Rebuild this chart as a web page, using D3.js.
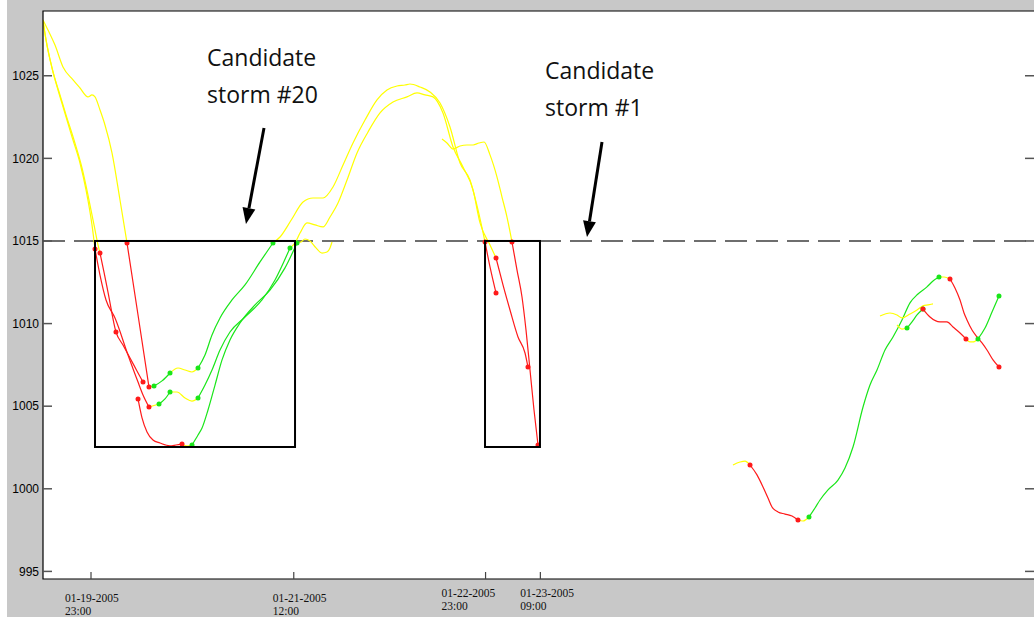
<!DOCTYPE html>
<html>
<head>
<meta charset="utf-8">
<script src="https://cdn.jsdelivr.net/npm/d3@7"></script>
<style>
  body { margin: 0; background: #fff; }
  svg { display: block; }
</style>
</head>
<body>
<script>
// Each point: [hours after 01-19-2005 23:00, pressure hPa, colour of the segment starting here, marker(s)]
const track1 = [
  [-8.76,1028.38,"y"],[-7.85,1027.77,"y"],[-6.57,1026.86,"y"],[-5.11,1025.53,"y"],[-3.28,1024.75,"y"],
  [-2.01,1024.26,"y"],[-0.55,1023.72,"y"],[0.18,1023.84,"y"],[0.73,1023.72,"y"],[1.64,1022.93,"y"],
  [2.55,1022.02,"y"],[3.83,1020.33,"y"],[5.29,1017.48,"y"],[6.57,1014.88,"r","r"],[8.58,1010.52,"r"],
  [10.58,1006.16,"y","r"],[11.50,1006.22,"g","g"],[12.96,1006.53,"g"],[14.42,1007.01,"y","g"],
  [15.88,1007.31,"y"],[17.15,1007.19,"y"],[18.43,1007.07,"y"],[19.53,1007.31,"g","g"],[20.80,1008.10,"g"],
  [22.08,1009.31,"g"],[23.54,1010.34,"g"],[25.73,1011.43,"g"],[28.10,1012.34,"g"],[30.84,1013.73,"g"],
  [33.21,1014.88,"y","g"],[34.49,1015.24,"y"],[36.6,1016.3,"y"],[38.69,1017.36,"y"],[40.51,1017.60,"y"],
  [42.34,1017.60,"y"],[44.16,1018.27,"y"],[45.99,1019.60,"y"],[47.81,1020.93,"y"],[50.00,1022.32,"y"],
  [52.19,1023.54,"y"],[54.01,1024.14,"y"],[55.84,1024.38,"y"],[57.30,1024.44,"y"],[58.21,1024.50,"y"],
  [60.04,1024.32,"y"],[61.86,1024.02,"y"],[63.69,1023.35,"y"],[65.51,1021.90,"y"],[67.34,1019.72,"y"],
  [69.16,1018.69,"y"],[70.62,1016.88,"y"],[71.90,1014.94,"r","r"],[72.81,1013.43,"r"],[73.91,1011.85,"r","r"]
];
const track2 = [
  [-8.76,1028.38,"y"],[-8.21,1027.17,"y"],[-7.12,1025.47,"y"],[-6.02,1024.14,"y"],[-4.93,1022.93,"y"],
  [-3.47,1021.30,"y"],[-2.01,1019.72,"y"],[-0.91,1018.09,"y"],[0.18,1015.97,"y"],[0.73,1014.52,"r","r"],
  [1.64,1012.94,"r"],[2.74,1011.43,"r"],[4.38,1010.34,"r"],[6.75,1008.10,"r"],[8.58,1006.46,"r"],
  [9.49,1005.68,"r"],[10.58,1004.95,"y","r"],[12.41,1005.13,"g","g"],[13.50,1005.44,"g"],
  [14.42,1005.86,"y","g"],[15.69,1005.86,"y"],[17.15,1005.50,"y"],[18.43,1005.31,"y"],[19.53,1005.50,"g","g"],
  [20.80,1006.28,"g"],[22.08,1007.19,"g"],[23.54,1008.40,"g"],[25.36,1009.49,"g"],[28.10,1010.40,"g"],
  [31.20,1011.43,"g"],[33.58,1012.64,"g"],[36.31,1014.58,"y","g"],[37.23,1014.88,"y"],[38.14,1015.48,"y"],
  [39.42,1016.09,"y"],[40.88,1015.97,"y"],[42.34,1015.85,"y"],[43.61,1016.45,"y"],[45.07,1017.30,"y"],
  [46.72,1018.69,"y"],[48.54,1020.33,"y"],[50.55,1021.60,"y"],[52.74,1022.75,"y"],[55.11,1023.41,"y"],
  [57.66,1023.72,"y"],[59.49,1023.96,"y"],[60.95,1023.84,"y"],[62.41,1023.72,"y"],[64.23,1022.75,"y"],
  [66.06,1020.69,"y"],[67.88,1019.48,"y"],[69.71,1018.09,"y"],[70.99,1016.09,"y"],[72.81,1014.76,"y"],
  [73.91,1013.97,"r","r"],[75.18,1012.34,"r"],[76.46,1010.82,"r"],[77.92,1009.19,"r"],[79.20,1008.22,"r"],
  [79.74,1007.37,"r","r"]
];
const track3 = [
  [-8.76,1028.26,"y"],[-8.03,1026.86,"y"],[-6.93,1025.23,"y"],[-5.66,1023.84,"y"],[-4.56,1022.63,"y"],
  [-3.10,1021.11,"y"],[-1.64,1019.42,"y"],[-0.55,1017.78,"y"],[0.55,1015.97,"y"],[1.28,1014.76,"y"],
  [1.64,1014.27,"r","r"],[2.37,1013.12,"r"],[3.10,1011.91,"r"],[4.56,1009.49,"r","r"],[5.84,1008.70,"r"],
  [7.12,1007.92,"r"],[8.39,1007.13,"r"],[9.49,1006.46,"r","r"]
];
const track4 = [
  [8.58,1005.44,"r","r"],[9.31,1004.29,"r"],[10.22,1003.44,"r"],[11.31,1002.95,"r"],[12.59,1002.77,"r"],
  [14.42,1002.60,"r"],[15.51,1002.65,"r"],[16.61,1002.71,"y","r"],[17.52,1002.59,"y"],
  [18.43,1002.65,"g","g"],[19.53,1003.26,"g"],[20.26,1003.68,"g"],[21.35,1004.77,"g"],[22.63,1006.28,"g"],
  [23.91,1007.80,"g"],[25.36,1009.01,"g"],[27.19,1010.04,"g"],[29.93,1011.13,"g"],[32.66,1012.03,"g"],
  [35.40,1013.37,"g"],[37.59,1014.88,"y","g"],[38.32,1014.94,"y"],[39.05,1015.12,"y"],[39.96,1015.00,"y"],
  [41.06,1014.58,"y"],[42.15,1014.27,"y"],[43.07,1014.33,"y"],[43.61,1014.58,"y"],[43.98,1014.94,"y"]
];
const track5 = [
  [64.05,1021.17,"y"],[64.96,1020.93,"y"],[66.06,1020.57,"y"],[67.34,1020.75,"y"],[68.61,1020.81,"y"],
  [69.71,1020.81,"y"],[70.80,1020.93,"y"],[71.72,1020.99,"y"],[72.81,1020.21,"y"],[74.09,1018.87,"y"],
  [75.00,1017.66,"y"],[75.91,1016.45,"y"],[76.82,1014.94,"r","r"],[77.74,1013.24,"r"],[78.65,1011.61,"r"],
  [79.38,1009.61,"r"],[80.11,1007.19,"r"],[80.84,1004.77,"r"],[81.57,1002.65,"r","r"]
];
const track6 = [
  [117.15,1001.44,"y"],[118.43,1001.62,"y"],[119.34,1001.68,"y"],[120.26,1001.44,"r","r"],[121.53,1000.84,"r"],
  [122.63,1000.11,"r"],[123.54,999.44,"r"],[124.27,998.90,"r"],[125.36,998.60,"r"],[126.64,998.47,"r"],
  [127.92,998.35,"r"],[129.01,998.11,"y","r"],[129.93,998.05,"y"],[131.02,998.29,"g","g"],[132.12,998.84,"g"],
  [133.03,999.32,"g"],[134.49,999.93,"g"],[136.31,1000.53,"g"],[137.59,1001.26,"g"],[139.05,1002.53,"g"],
  [140.88,1004.95,"g"],[142.15,1006.28,"g"],[143.43,1007.19,"g"],[144.89,1008.40,"g"],[146.35,1009.19,"g"],
  [147.99,1010.22,"g"],[149.45,1011.25,"g"],[150.91,1011.79,"g"],[152.55,1012.22,"g"],[153.65,1012.58,"g"],
  [154.74,1012.82,"y","g"],[155.66,1012.82,"y"],[156.75,1012.70,"r","r"],[157.66,1012.16,"r"],
  [158.58,1011.43,"r"],[159.31,1010.64,"r"],[159.85,1010.22,"r"],[160.77,1009.61,"r"],[161.68,1009.19,"r"],
  [162.59,1008.83,"r"],[163.50,1008.40,"r"],[164.60,1007.80,"r"],[165.69,1007.37,"r","r"]
];
const track7 = [
  [147.08,1009.92,"y"],[147.99,1009.67,"y"],[148.91,1009.73,"g","g"],[149.82,1010.10,"g"],[150.73,1010.52,"g"],
  [151.82,1010.88,"r","gr"],[153.10,1010.40,"r"],[154.93,1010.10,"r"],[156.20,1010.10,"r"],[157.30,1009.79,"r"],
  [158.58,1009.43,"r"],[159.67,1009.07,"y","r"],[160.40,1008.89,"y"],[160.95,1008.89,"y"],
  [161.86,1009.07,"g","g"],[163.14,1009.73,"g"],[164.42,1010.70,"g"],[165.69,1011.67,"g","g"]
];
const track8 = [
  [143.98,1010.46,"y"],[145.80,1010.64,"y"],[147.08,1010.52,"y"],[147.99,1010.34,"y"],[149.45,1010.58,"y"],
  [150.73,1010.82,"y"],[151.82,1011.07,"y"],[152.74,1011.13,"y"],[153.65,1011.19,"y"]
];
const tracks = [track1, track2, track3, track4, track5, track6, track7, track8];

const threshold = 1015;
// candidate storm boxes: start hour, end hour, lowest hPa
const boxStart = [0.73, 71.9];
const boxEnd = [37.23, 81.93];
const boxLow = [1002.53, 1002.53];

const yTicks = [995, 1000, 1005, 1010, 1015, 1020, 1025];
const xTicks = [0, 37, 72, 82];

// annotations: text lines and arrow [tail hour, tail hPa, tip hour, tip hPa]
const noteLines = [["Candidate", "storm #20"], ["Candidate", "storm #1"]];
const noteAt = [[21.17, 1025.59], [82.85, 1024.81]];
const arrows = [[31.57, 1021.84, 28.28, 1016.03], [93.25, 1020.99, 90.51, 1015.24]];

const W = 1034, H = 617;
const plotL = 43, plotT = 11, plotB = 579, plotR = 1034;
const hourZero = new Date(2005, 0, 19, 23, 0);
const toDate = h => new Date(hourZero.getTime() + h * 3600e3);

const svg = d3.select("body").append("svg").attr("width", W).attr("height", H);

svg.append("rect").attr("width", W).attr("height", H).attr("fill", "#fff");
svg.append("rect").attr("x", 7).attr("width", W - 7).attr("height", H).attr("fill", "#c8c8c8");
svg.append("rect").attr("x", plotL).attr("y", plotT).attr("width", plotR - plotL + 2).attr("height", plotB - plotT).attr("fill", "#fff");

const x = d3.scaleTime().domain([toDate(-8.76), toDate(172.08)]).range([plotL, plotR]);
const y = d3.scaleLinear().domain([994.54, 1028.92]).range([plotB, plotT]);
const px = d => x(toDate(d[0]));
const py = d => y(d[1]);

svg.append("clipPath").attr("id", "plotClip").append("rect")
  .attr("x", plotL).attr("y", plotT).attr("width", plotR - plotL).attr("height", plotB - plotT);
const plot = svg.append("g").attr("clip-path", "url(#plotClip)");

// threshold line
plot.append("line")
  .attr("x1", plotL).attr("x2", plotR)
  .attr("y1", y(threshold)).attr("y2", y(threshold))
  .attr("stroke", "#6e6e6e").attr("stroke-width", 2)
  .attr("stroke-dasharray", "22,9");

const colors = { y: "#ffff00", r: "#ff1a1a", g: "#19e619" };
const line = d3.line().x(px).y(py).curve(d3.curveMonotoneX);

tracks.forEach(tr => {
  let start = 0;
  for (let i = 1; i < tr.length; i++) {
    if (i === tr.length - 1 || tr[i][2] !== tr[start][2]) {
      plot.append("path")
        .datum(tr.slice(start, i + 1))
        .attr("fill", "none")
        .attr("stroke", colors[tr[start][2]])
        .attr("stroke-width", 1.2)
        .attr("d", line);
      start = i;
    }
  }
});

// storm boxes
boxStart.forEach((b, i) => {
  const x0 = x(toDate(b)), x1 = x(toDate(boxEnd[i]));
  svg.append("rect")
    .attr("x", x0).attr("y", y(threshold))
    .attr("width", x1 - x0).attr("height", y(boxLow[i]) - y(threshold))
    .attr("fill", "none").attr("stroke", "#000").attr("stroke-width", 2);
});

// markers at ends of red / green runs
tracks.forEach(tr => {
  tr.filter(d => d[3]).forEach(d => {
    d[3].split("").forEach(c => {
      plot.append("circle")
        .attr("cx", px(d)).attr("cy", py(d)).attr("r", 2.5)
        .attr("fill", colors[c]);
    });
  });
});

// frame
svg.append("path")
  .attr("d", `M${plotR + 2},${plotT}H${plotL}V${plotB}H${plotR + 2}`)
  .attr("fill", "none").attr("stroke", "#000").attr("stroke-width", 1.2);

// y ticks, both sides, pointing inwards
svg.append("g").selectAll("line").data(yTicks).join("line")
  .attr("x1", plotL).attr("x2", plotL + 9)
  .attr("y1", d => y(d)).attr("y2", d => y(d))
  .attr("stroke", "#555").attr("stroke-width", 1.5);
svg.append("g").selectAll("line").data(yTicks).join("line")
  .attr("x1", plotR - 9).attr("x2", plotR)
  .attr("y1", d => y(d)).attr("y2", d => y(d))
  .attr("stroke", "#555").attr("stroke-width", 1.5);
svg.append("g").selectAll("text").data(yTicks).join("text")
  .attr("x", 39).attr("y", d => y(d)).attr("dy", "0.35em")
  .attr("text-anchor", "end")
  .style("font", "12px 'Liberation Sans', Arial, sans-serif")
  .text(d => d);

// x ticks
const labelShift = [-26, -21, -44, -20];
const labelRaise = [0, 0, -5, -5];
const fmtDay = d3.timeFormat("%m-%d-%Y"), fmtTime = d3.timeFormat("%H:%M");
svg.append("g").selectAll("line").data(xTicks).join("line")
  .attr("x1", d => x(toDate(d))).attr("x2", d => x(toDate(d)))
  .attr("y1", plotB).attr("y2", plotB - 7)
  .attr("stroke", "#444").attr("stroke-width", 1.2);
const xl = svg.append("g").selectAll("text").data(xTicks).join("text")
  .attr("x", (d, i) => x(toDate(d)) + labelShift[i])
  .attr("y", (d, i) => 602 + labelRaise[i])
  .style("font", "11.5px 'Liberation Serif', 'Times New Roman', serif")
  .attr("fill", "#111");
xl.append("tspan").text(d => fmtDay(toDate(d)));
xl.append("tspan").attr("x", (d, i) => x(toDate(d)) + labelShift[i]).attr("dy", 13)
  .text(d => fmtTime(toDate(d)));

// arrows
arrows.forEach(a => {
  const x0 = x(toDate(a[0])), y0 = y(a[1]), x1 = x(toDate(a[2])), y1 = y(a[3]);
  const ang = Math.atan2(y1 - y0, x1 - x0), len = 16, hw = 6.5;
  const bx = x1 - len * Math.cos(ang), by = y1 - len * Math.sin(ang);
  svg.append("line").attr("x1", x0).attr("y1", y0).attr("x2", bx).attr("y2", by)
    .attr("stroke", "#000").attr("stroke-width", 3);
  const nx = -Math.sin(ang) * hw, ny = Math.cos(ang) * hw;
  svg.append("path")
    .attr("d", `M${x1},${y1}L${bx + nx},${by + ny}L${bx - nx},${by - ny}Z`)
    .attr("fill", "#000");
});

// annotation text
noteLines.forEach((lines, i) => {
  const t = svg.append("text")
    .attr("x", x(toDate(noteAt[i][0]))).attr("y", y(noteAt[i][1]))
    .style("font", "23px 'Open Sans', sans-serif").attr("fill", "#111");
  lines.forEach((s, j) => {
    t.append("tspan").attr("x", x(toDate(noteAt[i][0]))).attr("dy", j ? 37 : 0).text(s);
  });
});
</script>
</body>
</html>
